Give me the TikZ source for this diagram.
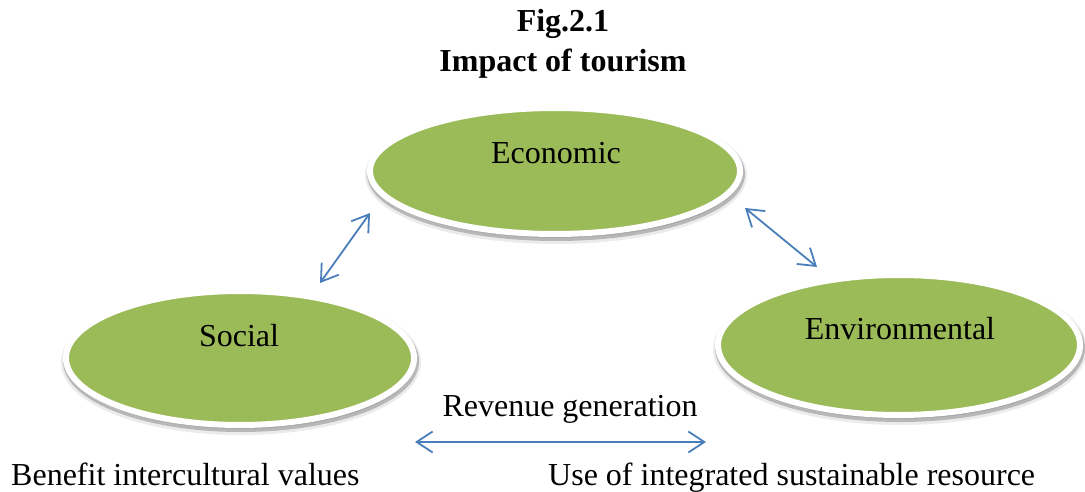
\documentclass[tikz,border=0pt]{standalone}
\usepackage{fontspec}
\setmainfont{Liberation Serif}
\usetikzlibrary{arrows.meta,shapes.geometric}
\definecolor{leaf}{HTML}{9BBB59}
\definecolor{linkblue}{HTML}{4A7EBB}
\tikzset{
  impact/.style n args={2}{ellipse, inner sep=0pt,
    minimum width=#1, minimum height=#2,
    fill=leaf, draw=white, line width=6pt,
    preaction={draw=black, fill=black, line width=12pt, opacity=.08,
      transform canvas={xshift=1pt,yshift=-4pt}},
    preaction={draw=black, fill=black, line width=8pt, opacity=.22,
      transform canvas={xshift=1pt,yshift=-3pt}}},
  caption/.style={inner sep=0pt, anchor=base, font=\fontsize{32}{38}\selectfont},
  heading/.style={caption, font=\fontsize{32}{38}\selectfont\bfseries},
  link/.style={draw=linkblue, line width=1.8pt,
    {Straight Barb[length=16pt,width=21pt]}-{Straight Barb[length=16pt,width=21pt]}}
}
\begin{document}
\begin{tikzpicture}[x=1pt,y=1pt]
  \useasboundingbox (0,0) rectangle (1085,491);

  % title
  \node[heading] (fig) at (563,459) {Fig.2.1};
  \node[heading] (title) at (563,419) {Impact of tourism};

  % the three impact areas
  \node[impact={370pt}{126pt}] (econ) at (555,320) {};
  \node[impact={348pt}{134pt}] (soc) at (240,133) {};
  \node[impact={362pt}{140pt}] (env) at (899,146) {};

  \node[caption] (econtxt) at (556,327) {Economic};
  \node[caption] (soctxt) at (239,145) {Social};
  \node[caption] (envtxt) at (900,152) {Environmental};

  % relations
  \coordinate (l1) at (370,278);
  \coordinate (l2) at (320,208);
  \coordinate (r1) at (745,283);
  \coordinate (r2) at (817,224);
  \coordinate (b1) at (415,49);
  \coordinate (b2) at (706,49);
  \draw[link] (l1) -- (l2);
  \draw[link] (r1) -- (r2);
  \draw[link] (b1) -- (b2);

  \node[caption] (rev) at (570,75) {Revenue generation};
  \node[caption, anchor=base west] (benefit) at (11,6) {Benefit intercultural values};
  \node[caption, anchor=base west] (use) at (548,6) {Use of integrated sustainable resource};
\end{tikzpicture}
\end{document}
